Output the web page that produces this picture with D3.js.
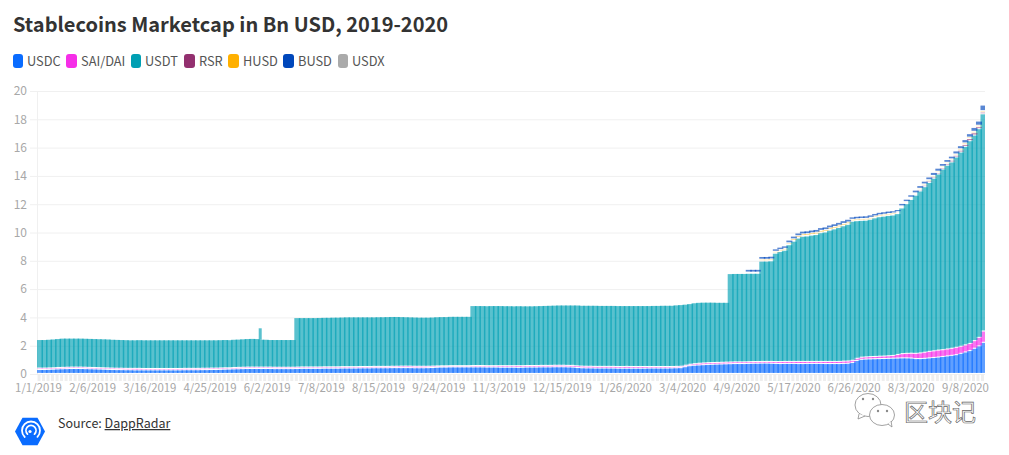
<!DOCTYPE html>
<html>
<head>
<meta charset="utf-8">
<script src="https://cdn.jsdelivr.net/npm/d3@7"></script>
<style>
html,body{margin:0;padding:0;background:#fff;overflow:hidden}
text{font-family:"Noto Sans CJK SC","Noto Sans",sans-serif}
</style>
</head>
<body>
<svg id="chart" width="1009" height="455"></svg>
<script>
const seriesNames = ["USDC","SAI/DAI","USDT","RSR","HUSD","BUSD","USDX"];
const seriesColors = ["#0a6cff","#f62ee8","#009fb3","#93306f","#ffb000","#0047bb","#aaaaaa"];
const tickLabels = ["1/1/2019","2/6/2019","3/16/2019","4/25/2019","6/2/2019","7/8/2019","8/15/2019","9/24/2019","11/3/2019","12/15/2019","1/26/2020","3/4/2020","4/9/2020","5/17/2020","6/26/2020","8/3/2020","9/8/2020"];
const yTicks = [0,2,4,6,8,10,12,14,16,18,20];
const spikeDate = "5/29/2019";
const spikeRange = [2.42,3.23];
const USDC = [
.28,.28,.29,.30,.32,.33,.34,.35,.35,.35,
.34,.33,.32,.31,.30,.29,.28,.27,.27,.26,
.26,.25,.25,.25,.25,.25,.25,.25,.25,.25,
.25,.25,.26,.26,.26,.26,.27,.27,.28,.28,
.29,.30,.31,.32,.33,.34,.35,.35,.35,.35,
.35,.35,.34,.34,.34,.34,.34,.35,.36,.36,
.36,.36,.36,.37,.37,.37,.37,.38,.38,.38,
.38,.39,.39,.39,.40,.40,.40,.40,.41,.41,
.41,.41,.41,.40,.40,.40,.41,.42,.44,.45,
.45,.46,.46,.46,.46,.46,.46,.46,.46,.45,
.45,.45,.44,.44,.44,.44,.43,.44,.45,.45,
.45,.46,.46,.46,.47,.47,.47,.46,.45,.42,
.40,.39,.39,.38,.38,.38,.38,.38,.37,.37,
.37,.37,.37,.37,.37,.38,.38,.38,.38,.38,
.39,.40,.41,.48,.55,.58,.60,.62,.64,.65,
.66,.67,.68,.69,.70,.70,.70,.71,.72,.72,
.73,.73,.72,.71,.70,.71,.71,.71,.70,.70,
.71,.71,.71,.71,.70,.70,.70,.70,.71,.72,
.78,.92,1.00,1.02,1.03,1.04,1.05,1.06,1.07,1.08,
1.09,1.10,1.10,1.09,1.05,1.05,1.07,1.10,1.13,1.16,
1.20,1.24,1.28,1.33,1.42,1.52,1.62,1.78,1.95,2.20];
const DAI = [
.10,.10,.10,.10,.10,.10,.10,.10,.10,.10,
.10,.10,.10,.10,.10,.10,.10,.10,.10,.10,
.10,.11,.11,.10,.10,.10,.10,.10,.10,.10,
.10,.10,.10,.10,.10,.10,.10,.10,.10,.10,
.10,.10,.09,.10,.10,.10,.10,.10,.10,.10,
.10,.10,.10,.10,.10,.10,.10,.10,.10,.10,
.10,.10,.10,.10,.10,.10,.10,.10,.10,.10,
.10,.10,.10,.10,.10,.10,.10,.10,.10,.10,
.11,.11,.11,.11,.11,.11,.10,.10,.09,.09,
.09,.09,.09,.09,.09,.09,.10,.10,.10,.10,
.10,.10,.11,.11,.11,.11,.12,.11,.11,.11,
.11,.11,.11,.11,.11,.11,.11,.11,.12,.12,
.12,.12,.12,.12,.12,.12,.12,.12,.12,.12,
.13,.12,.12,.12,.12,.11,.11,.11,.11,.11,
.10,.10,.10,.10,.10,.11,.12,.12,.12,.12,
.12,.12,.12,.12,.12,.12,.12,.12,.12,.12,
.12,.12,.13,.13,.14,.14,.14,.14,.15,.15,
.14,.14,.14,.14,.15,.15,.15,.15,.16,.16,
.15,.15,.15,.15,.16,.16,.17,.17,.18,.19,
.25,.30,.32,.34,.37,.40,.43,.46,.47,.49,
.48,.49,.50,.52,.50,.50,.50,.54,.60,.80];
const USDT = [
2.02,2.02,2.03,2.04,2.05,2.07,2.06,2.05,2.05,2.05,
2.05,2.05,2.05,2.05,2.05,2.05,2.04,2.04,2.03,2.03,
2.02,2.02,2.03,2.03,2.03,2.03,2.03,2.03,2.03,2.03,
2.03,2.03,2.02,2.02,2.02,2.02,2.01,2.01,2.00,2.00,
2.00,2.00,1.99,2.00,2.00,2.01,2.02,2.03,2.02,1.97,
1.97,1.95,1.96,1.96,1.96,1.96,1.96,3.50,3.49,3.49,
3.49,3.49,3.50,3.50,3.50,3.51,3.51,3.51,3.52,3.52,
3.52,3.51,3.51,3.51,3.50,3.51,3.51,3.52,3.52,3.52,
3.50,3.49,3.48,3.48,3.47,3.47,3.47,3.47,3.48,3.48,
3.48,3.49,3.49,3.49,3.49,3.49,4.24,4.24,4.24,4.24,
4.25,4.25,4.25,4.24,4.24,4.23,4.24,4.23,4.22,4.22,
4.23,4.23,4.24,4.25,4.25,4.26,4.26,4.27,4.27,4.30,
4.30,4.31,4.31,4.32,4.31,4.31,4.31,4.31,4.31,4.31,
4.30,4.31,4.31,4.31,4.31,4.31,4.32,4.32,4.33,4.33,
4.33,4.35,4.36,4.32,4.29,4.31,4.31,4.30,4.28,4.27,
4.25,4.24,4.23,6.25,6.25,6.25,6.25,6.25,6.24,6.24,
7.09,7.09,7.11,7.66,7.78,7.86,8.25,8.50,8.72,8.85,
8.87,8.93,8.97,9.10,9.15,9.28,9.37,9.47,9.57,9.66,
9.83,9.73,9.67,9.66,9.71,9.80,9.86,9.89,9.92,9.93,
9.96,10.30,10.58,10.87,11.18,11.45,11.70,11.94,12.20,12.45,
12.77,12.99,13.17,13.45,13.73,14.03,14.33,14.53,14.75,15.35];
const RSR = [
0,0,0,0,0,0,0,0,0,0, 0,0,0,0,0,0,0,0,0,0, 0,0,0,0,0,0,0,0,0,0,
0,0,0,0,0,0,0,0,0,0, 0,0,0,0,0,0,0,0,0,0, 0,0,0,0,0,0,0,0,0,0,
0,0,0,0,0,0,0,0,0,0, 0,0,0,0,0,0,0,0,0,0, 0,0,0,0,0,0,0,0,0,0,
0,0,0,0,0,0,0,0,0,0, 0,0,0,0,0,0,0,0,0,0, 0,0,0,0,0,0,0,0,0,0,
0,0,0,0,0,0,0,0,0,0, 0,0,0,0,0,0,0,0,0,0, 0,0,0,0,0,0,0,0,0,0,
0,0,0,0,0,0,0,.02,.02,.02,
.03,.03,.03,.03,.03,.03,.03,.04,.04,.04,
.04,.04,.04,.04,.04,.04,.04,.04,.04,.04,
.03,.03,.03,.03,.03,.03,.03,.03,.03,.04,
.05,.06,.06,.07,.08,.09,.10,.10,.10,.10,
.10,.11,.12,.12,.13,.14,.15,.16,.14,.12];
const HUSD = [
0,0,0,0,0,0,0,0,0,0, 0,0,0,0,0,0,0,0,0,0, 0,0,0,0,0,0,0,0,0,0,
0,0,0,0,0,0,0,0,0,0, 0,0,0,0,0,0,0,0,0,0, 0,0,0,0,0,0,0,0,0,0,
0,0,0,0,0,0,0,0,0,0, 0,0,0,0,0,0,0,0,0,0, 0,0,0,0,0,0,0,0,0,0,
0,0,0,0,0,0,0,0,0,0, 0,0,0,0,0,0,0,0,0,0, 0,0,0,0,0,0,0,0,0,0,
0,0,0,0,0,0,0,0,0,0, 0,0,0,0,0,0,0,0,0,0, 0,0,0,0,0,0,0,0,0,0,
0,0,0,0,0,0,0,.06,.06,.06,
.10,.10,.10,.10,.10,.10,.10,.12,.12,.12,
.12,.12,.12,.12,.12,.12,.12,.12,.12,.12,
.10,.10,.10,.10,.10,.10,.10,.10,.10,.10,
.08,.08,.08,.08,.08,.09,.09,.09,.09,.09,
.09,.09,.09,.09,.10,.10,.10,.10,.10,.10];
const BUSD = [
0,0,0,0,0,0,0,0,0,0, 0,0,0,0,0,0,0,0,0,0, 0,0,0,0,0,0,0,0,0,0,
0,0,0,0,0,0,0,0,0,0, 0,0,0,0,0,0,0,0,0,0, 0,0,0,0,0,0,0,0,0,0,
0,0,0,0,0,0,0,0,0,0, 0,0,0,0,0,0,0,0,0,0, 0,0,0,0,0,0,0,0,0,0,
0,0,0,0,0,0,0,0,0,0, 0,0,0,0,0,0,0,0,0,0, 0,0,0,0,0,0,0,0,0,0,
0,0,0,0,0,0,0,0,0,0, 0,0,0,0,0,0,0,0,0,0, 0,0,0,0,0,0,0,0,0,0,
0,0,0,0,0,0,0,.20,.20,.20,
.20,.20,.20,.18,.18,.18,.20,.20,.20,.20,
.20,.20,.20,.20,.20,.20,.20,.20,.20,.20,
.18,.18,.18,.18,.18,.18,.18,.18,.18,.16,
.16,.18,.18,.18,.20,.20,.20,.20,.22,.22,
.20,.20,.20,.22,.22,.24,.25,.28,.30,.40];
const USDX = [
0,0,0,0,0,0,0,0,0,0, 0,0,0,0,0,0,0,0,0,0, 0,0,0,0,0,0,0,0,0,0,
0,0,0,0,0,0,0,0,0,0, 0,0,0,0,0,0,0,0,0,0, 0,0,0,0,0,0,0,0,0,0,
0,0,0,0,0,0,0,0,0,0, 0,0,0,0,0,0,0,0,0,0, 0,0,0,0,0,0,0,0,0,0,
0,0,0,0,0,0,0,0,0,0, 0,0,0,0,0,0,0,0,0,0, 0,0,0,0,0,0,0,0,0,0,
0,0,0,0,0,0,0,0,0,0, 0,0,0,0,0,0,0,0,0,0, 0,0,0,0,0,0,0,0,0,0,
0,0,0,0,0,0,0,0,0,0,
0,0,0,0,0,0,0,0,0,0,
0,0,0,0,0,0,0,0,0,0,
0,0,0,0,0,0,0,0,0,0,
0,0,0,0,0,0,0,0,0,0,
0,0,0,0,0,0,0,0,0,0];

const seriesValues = [USDC,DAI,USDT,RSR,HUSD,BUSD,USDX];
const startDate = new Date(Date.UTC(2019,0,1));
const endDate = d3.utcDay.offset(startDate,630);
const parseLabel = d3.utcParse("%m/%d/%Y");
const barDates = USDC.map((_,i)=>d3.utcDay.offset(startDate,3*i));
const table = barDates.map((date,i)=>{
  const row={date};
  seriesNames.forEach((n,k)=>row[n]=seriesValues[k][i]);
  return row;
});

const plotL=37,plotR=985,plotT=91,plotB=374;
const svg=d3.select("#chart");
const x=d3.scaleUtc().domain([startDate,endDate]).range([plotL,plotR]);
const y=d3.scaleLinear().domain([0,20]).range([plotB,plotT]);
const color=d3.scaleOrdinal().domain(seriesNames).range(seriesColors);
const barOpacity=0.65;

// title
svg.append("text").attr("x",13).attr("y",32).attr("font-size",20).attr("font-weight",700)
  .attr("fill","#333").text("Stablecoins Marketcap in Bn USD, 2019-2020");

// legend
const legendSwatchX=[13,66,131,184,228,283,338];
const legendSwatchW=[10,11,10,11,11,11,10];
const lg=svg.append("g").selectAll("g").data(seriesNames).join("g");
lg.append("rect").attr("x",(d,i)=>legendSwatchX[i]).attr("y",54).attr("width",(d,i)=>legendSwatchW[i]).attr("height",14).attr("rx",3)
  .attr("fill",d=>color(d));
lg.append("text").attr("x",(d,i)=>legendSwatchX[i]+legendSwatchW[i]+4).attr("y",66).attr("font-size",12.8)
  .attr("fill","#555").text(d=>d);

// grid
const grid=svg.append("g").attr("transform",`translate(${plotL},0)`)
  .call(d3.axisLeft(y).tickValues(yTicks).tickSize(-(plotR-plotL)).tickFormat(""));
grid.select(".domain").remove();
grid.selectAll("line").attr("stroke","#f0f0f0");

// y axis
const yAxis=svg.append("g").attr("transform",`translate(${plotL},0)`)
  .call(d3.axisLeft(y).tickValues(yTicks).tickSize(7).tickPadding(3));
yAxis.select(".domain").attr("stroke","#f0f0f0");
yAxis.selectAll("line").attr("stroke","#f0f0f0");
yAxis.selectAll("text").attr("fill","#a8a8a8").attr("font-size",12).style("font-family",'"Noto Sans CJK SC",sans-serif');

// dense x ticks
const xTicks=svg.append("g").attr("transform",`translate(1.5,${plotB})`)
  .call(d3.axisBottom(x).tickValues(barDates).tickSize(7).tickFormat(""));
xTicks.select(".domain").remove();
xTicks.selectAll("line").attr("stroke","#eeeeee").attr("stroke-width",3);

// x labels
const xAxis=svg.append("g").attr("transform",`translate(1,${plotB})`)
  .call(d3.axisBottom(x).tickValues(tickLabels.map(parseLabel)).tickSize(0).tickPadding(10)
    .tickFormat((d,i)=>tickLabels[i]));
xAxis.select(".domain").remove();
xAxis.selectAll("text").attr("fill","#a8a8a8").attr("font-size",11.4).style("font-family",'"Noto Sans CJK SC",sans-serif');

// bars
svg.append("clipPath").attr("id","plot").append("rect").attr("x",plotL).attr("y",0).attr("width",plotR-plotL).attr("height",plotB+1);
const stacked=d3.stack().keys(seriesNames)(table);
const gap=1.1;
svg.append("g").attr("clip-path","url(#plot)").selectAll("g").data(stacked).join("g")
  .attr("fill",s=>color(s.key)).attr("fill-opacity",barOpacity)
  .selectAll("rect").data(s=>s.filter(d=>d[1]>d[0])).join("rect")
  .attr("x",d=>x(d.data.date))
  .attr("width",d=>x(d3.utcDay.offset(d.data.date,4))-x(d.data.date))
  .attr("y",d=>y(d[1]))
  .attr("height",d=>Math.max(0,y(d[0])-y(d[1])-gap));

// one-day spike in USDT
const sd=parseLabel(spikeDate);
svg.append("rect").attr("x",x(sd)-1).attr("width",x(d3.utcDay.offset(sd,2))-x(sd))
  .attr("y",y(spikeRange[1])).attr("height",y(spikeRange[0])-y(spikeRange[1]))
  .attr("fill",color("USDT")).attr("fill-opacity",barOpacity);

// source
const lx=30,ly=431.5;
svg.append("path").attr("fill","#0a6cff")
  .attr("d",d3.line()(d3.range(6).map(i=>[lx+15*Math.cos(i*Math.PI/3),ly+16*Math.sin(i*Math.PI/3)]))+"Z");
const logo=svg.append("g").attr("fill","none").attr("stroke","#fff").attr("stroke-linecap","round");
logo.append("circle").attr("cx",lx+1).attr("cy",ly-1).attr("r",9).attr("stroke-width",1.8).attr("stroke-dasharray","42 14").attr("transform",`rotate(135 ${lx+1} ${ly-1})`);
logo.append("circle").attr("cx",lx+1).attr("cy",ly-1).attr("r",5).attr("stroke-width",1.8).attr("stroke-dasharray","23 8").attr("transform",`rotate(135 ${lx+1} ${ly-1})`);
svg.append("circle").attr("cx",lx).attr("cy",ly).attr("r",1.6).attr("fill","#fff");
const src=svg.append("text").attr("x",58).attr("y",428).attr("font-size",12.5).attr("fill","#333");
src.append("tspan").text("Source: ");
src.append("tspan").attr("text-decoration","underline").text("DappRadar");

// watermark
const wm=svg.append("g").attr("fill","#fff").attr("stroke","#8a8a8a").attr("stroke-width",0.8);
wm.append("ellipse").attr("cx",868).attr("cy",405).attr("rx",13).attr("ry",11.5);
wm.append("path").attr("d","M859 414 L858 419 L865 416");
wm.append("ellipse").attr("cx",882).attr("cy",415).attr("rx",12.5).attr("ry",10.5);
wm.append("path").attr("d","M888 424 L892 427 L891 421");
const wmDots=svg.append("g").attr("fill","#8a8a8a");
[[863,399],[873,399],[878,411],[887,411]].forEach(p=>wmDots.append("circle").attr("cx",p[0]).attr("cy",p[1]).attr("r",1.2));
svg.append("text").attr("x",904).attr("y",421).attr("font-size",24)
  .attr("fill","#fff").attr("stroke","#666").attr("stroke-width",0.7).text("区块记");
</script>
</body>
</html>
